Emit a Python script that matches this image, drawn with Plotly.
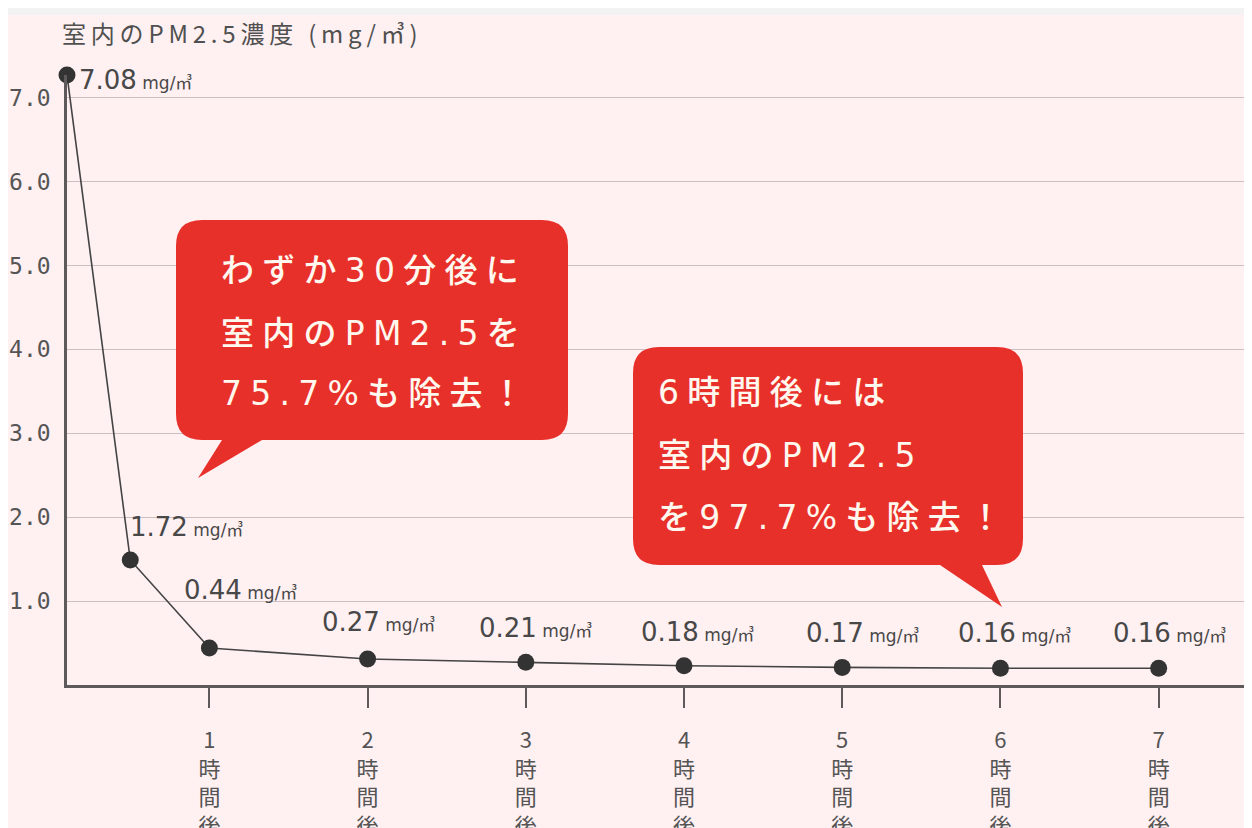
import plotly.graph_objects as go

# ---- data ----
hours = [0.1, 0.5, 1, 2, 3, 4, 5, 6, 7]
pm25 = [7.27, 1.49, 0.44, 0.31, 0.27, 0.23, 0.21, 0.20, 0.20]
value_labels = ["7.08", "1.72", "0.44", "0.27", "0.21", "0.18", "0.17", "0.16", "0.16"]
unit = "mg/㎥"
x_tickvals = [1, 2, 3, 4, 5, 6, 7]
x_ticktext = [f"{h}<br>時<br>間<br>後" for h in x_tickvals]
y_tickvals = [1, 2, 3, 4, 5, 6, 7]
y_ticktext = ["1.0", "2.0", "3.0", "4.0", "5.0", "6.0", "7.0"]
title_text = "室内のPM2.5濃度 (mg/㎥)"
callout1_lines = ["わずか30分後に", "室内のPM2.5を", "75.7%も除去！"]
callout2_lines = ["6時間後には", "室内のPM2.5", "を97.7%も除去！"]

# ---- layout geometry (page pixel coords; page body has an 8px margin) ----
OFF = 8
PAGE_W, PAGE_H = 1252, 828
AX_LEFT, AX_BOTTOM, PLOT_TOP = 67, 685, 75
W, H = PAGE_W - OFF, PAGE_H - OFF
ML, MR, MT, MB = AX_LEFT - OFF, 0, PLOT_TOP - OFF, PAGE_H - AX_BOTTOM
X0, X1 = 0.1, 7.59
Y0, Y1 = 0.0, 7.27
PINK = "#fff0f2"
RED = "#e8302a"
TXT = "#484848"

pw = PAGE_W - AX_LEFT
ph = AX_BOTTOM - PLOT_TOP


def dx(px):
    return X0 + (px - AX_LEFT) / pw * (X1 - X0)


def dy(py):
    return Y0 + (AX_BOTTOM - py) / ph * (Y1 - Y0)


def bubble(x0, y0, x1, y1, r, tail):
    bx0, bx1, tx, ty = tail
    p = f"M {dx(x0 + r)},{dy(y0)} L {dx(x1 - r)},{dy(y0)} "
    p += f"Q {dx(x1)},{dy(y0)} {dx(x1)},{dy(y0 + r)} "
    p += f"L {dx(x1)},{dy(y1 - r)} Q {dx(x1)},{dy(y1)} {dx(x1 - r)},{dy(y1)} "
    p += f"L {dx(bx1)},{dy(y1)} L {dx(tx)},{dy(ty)} L {dx(bx0)},{dy(y1)} "
    p += f"L {dx(x0 + r)},{dy(y1)} Q {dx(x0)},{dy(y1)} {dx(x0)},{dy(y1 - r)} "
    p += f"L {dx(x0)},{dy(y0 + r)} Q {dx(x0)},{dy(y0)} {dx(x0 + r)},{dy(y0)} Z"
    return dict(type="path", path=p, xref="x", yref="y", fillcolor=RED,
                line=dict(width=0), layer="above")


def spaced(s, sep="\u2005"):
    # visual letter spacing between glyphs
    return sep.join(s)


fig = go.Figure()
fig.add_trace(go.Scatter(
    x=hours, y=pm25, mode="lines+markers",
    line=dict(color="#444444", width=1.6),
    marker=dict(color="#333333", size=17),
    cliponaxis=False, hoverinfo="skip", showlegend=False,
))

label_shifts = [(10, -5), (-2, 33), (-27, 58), (-48, 37), (-49, 34),
                (-45, 34), (-38, 34), (-44, 35), (-48, 35)]
annotations = []
for h, v, lab, (xs, ys) in zip(hours, pm25, value_labels, label_shifts):
    annotations.append(dict(
        x=h, y=v, xref="x", yref="y", xanchor="left", yanchor="middle",
        xshift=xs, yshift=ys, showarrow=False,
        text=f"{lab}<span style='font-size:17px'> {unit}</span>",
        font=dict(family="DejaVu Sans, Noto Sans CJK JP", size=26, color=TXT),
    ))

# title (paper coords)
annotations.append(dict(
    x=(60 - AX_LEFT) / pw, y=1 + (PLOT_TOP - 33) / ph, xref="paper", yref="paper",
    xanchor="left", yanchor="middle", showarrow=False, text=spaced(title_text, "\u2009"),
    font=dict(family="Noto Sans CJK JP", size=24, color="#505050"),
))

for lines, left, centers in [(callout1_lines, 219, [270, 333, 393]),
                             (callout2_lines, 656, [392, 455, 517])]:
    for line, cy in zip(lines, centers):
        annotations.append(dict(
            x=dx(left), y=dy(cy), xref="x", yref="y", xanchor="left", yanchor="middle",
            showarrow=False, text=spaced(line),
            font=dict(family="DejaVu Sans, Noto Sans CJK JP", size=33,
                      color="#fff8ee", weight=500),
        ))

shapes = [
    dict(type="rect", xref="paper", yref="paper", x0=-0.1, x1=1.1,
         y0=1 + (PLOT_TOP - 15) / ph, y1=1 + (PLOT_TOP - OFF) / ph, fillcolor="#f2f2f2",
         line=dict(width=0), layer="below"),
    bubble(176, 220, 568, 440, 26, (222, 262, 198, 478)),
    bubble(633, 347, 1023, 565, 26, (940, 982, 1002, 607)),
]

fig.update_layout(
    width=W, height=H,
    margin=dict(l=ML, r=MR, t=MT, b=MB, autoexpand=False),
    paper_bgcolor=PINK, plot_bgcolor=PINK,
    annotations=annotations, shapes=shapes,
    xaxis=dict(range=[X0, X1], showgrid=False, zeroline=False, automargin=False,
               showline=True, linecolor="#5e5a5b", linewidth=2.5,
               tickmode="array", tickvals=x_tickvals, ticktext=x_ticktext,
               ticks="outside", ticklen=20, tickwidth=1.8, tickcolor="#5e5a5b",
               ticklabelstandoff=14,
               tickfont=dict(family="Noto Sans CJK JP", size=22, color="#555555")),
    yaxis=dict(range=[Y0, Y1], showgrid=True, gridcolor="#cbbfc2", gridwidth=1.3,
               zeroline=False, showline=True, linecolor="#5e5a5b", linewidth=2.5,
               automargin=False,
               tickmode="array", tickvals=y_tickvals, ticktext=y_ticktext,
               ticks="", ticklabelstandoff=9,
               tickfont=dict(family="DejaVu Sans Mono", size=23, color="#555555")),
)

fig.write_html("out.html")
